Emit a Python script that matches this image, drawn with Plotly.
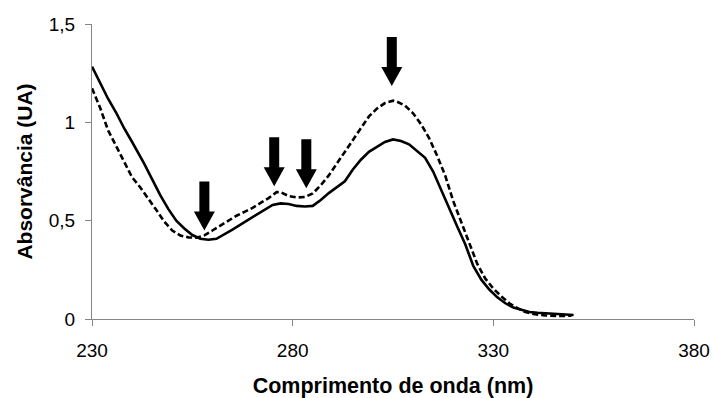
import plotly.graph_objects as go

# UV absorption spectra (wavelength in nm, absorbance in AU)
wl_solid = [230, 232, 234, 236, 238, 240, 242, 243, 245, 247, 249, 251, 253, 255, 257,
            259, 261, 263, 265, 267, 269, 271, 273, 275, 277, 279, 281, 283, 285, 287,
            289, 291, 293, 295, 297, 299, 301, 303, 305, 307, 309, 311, 313, 315, 317,
            319, 321, 323, 325, 327, 329, 331, 333, 335, 337, 339, 341, 344, 347, 350]
abs_solid = [1.283, 1.20, 1.12, 1.05, 0.97, 0.90, 0.83, 0.79, 0.71, 0.63, 0.56, 0.50, 0.46,
             0.427, 0.408, 0.403, 0.408, 0.43, 0.455, 0.48, 0.505, 0.53, 0.555, 0.58, 0.588,
             0.585, 0.575, 0.572, 0.575, 0.605, 0.64, 0.67, 0.70, 0.76, 0.81, 0.85, 0.875,
             0.90, 0.913, 0.905, 0.888, 0.855, 0.82, 0.75, 0.655, 0.565, 0.47, 0.38, 0.27,
             0.20, 0.15, 0.11, 0.08, 0.058, 0.045, 0.036, 0.032, 0.027, 0.024, 0.020]

wl_dash = [230, 232, 234, 236, 238, 240, 242, 244, 246, 248, 250, 252, 254, 256, 258,
           260, 262, 264, 266, 268, 270, 272, 274, 276, 277, 279, 281, 283, 285, 287,
           289, 291, 293, 295, 297, 299, 301, 303, 305, 306, 308, 310, 312, 314, 316,
           318, 320, 322, 324, 326, 328, 330, 332, 334, 336, 338, 340, 343, 346, 349.5]
abs_dash = [1.173, 1.075, 0.96, 0.88, 0.795, 0.72, 0.67, 0.615, 0.555, 0.495, 0.45, 0.425,
            0.415, 0.413, 0.425, 0.45, 0.475, 0.50, 0.525, 0.545, 0.565, 0.59, 0.615, 0.645,
            0.645, 0.625, 0.618, 0.62, 0.638, 0.68, 0.73, 0.79, 0.85, 0.91, 0.97, 1.03, 1.07,
            1.098, 1.11, 1.105, 1.085, 1.046, 0.99, 0.92, 0.83, 0.73, 0.60, 0.49, 0.39, 0.28,
            0.205, 0.155, 0.115, 0.08, 0.055, 0.035, 0.025, 0.018, 0.015, 0.017]

# Marked bands: wavelength and absorbance at the arrow tip
arrow_wl = [258.0, 275.4, 283.4, 304.7]
arrow_tip = [0.45, 0.675, 0.665, 1.185]

x_ticks = [230, 280, 330, 380]
y_ticks = [0, 0.5, 1, 1.5]
y_tick_text = ["0", "0,5", "1", "1,5"]

font_family = "Liberation Sans, Arial, sans-serif"

fig = go.Figure()
fig.add_trace(go.Scatter(x=wl_solid, y=abs_solid, mode="lines",
                         line=dict(color="black", width=2.6), showlegend=False))
fig.add_trace(go.Scatter(x=wl_dash, y=abs_dash, mode="lines",
                         line=dict(color="black", width=2.6, dash="6px,3px"),
                         showlegend=False))

# Thick downward arrows, sized in pixels and anchored at their tips
arrow_path = "M 0,0 L -10.5,19 L -5,19 L -5,49 L 5,49 L 5,19 L 10.5,19 Z"
for xa, ya in zip(arrow_wl, arrow_tip):
    fig.add_shape(type="path", xref="x", yref="y",
                  xsizemode="pixel", ysizemode="pixel",
                  xanchor=xa, yanchor=ya, path=arrow_path,
                  fillcolor="black", line=dict(width=0))

fig.update_layout(
    width=713, height=398,
    margin=dict(l=92, r=19, t=24, b=79),
    paper_bgcolor="white", plot_bgcolor="white",
    font=dict(family=font_family, size=19, color="black"),
)
fig.update_xaxes(
    range=[230, 380], tickvals=x_ticks, ticks="outside", ticklen=6,
    tickcolor="#868686", showline=True, linecolor="#868686", linewidth=1,
    showgrid=False, zeroline=False, ticklabelstandoff=8, automargin=False,
    title=dict(text="<b>Comprimento de onda (nm)</b>", font=dict(size=21.5), standoff=18),
)
fig.update_yaxes(
    range=[0, 1.5], tickvals=y_ticks, ticktext=y_tick_text, ticks="outside", ticklen=6,
    tickcolor="#868686", showline=True, linecolor="#868686", linewidth=1,
    showgrid=False, zeroline=False, ticklabelstandoff=6, automargin=False,
    title=dict(text="<b>Absorvância (UA)</b>", font=dict(size=21), standoff=10),
)

fig.write_html("out.html")
